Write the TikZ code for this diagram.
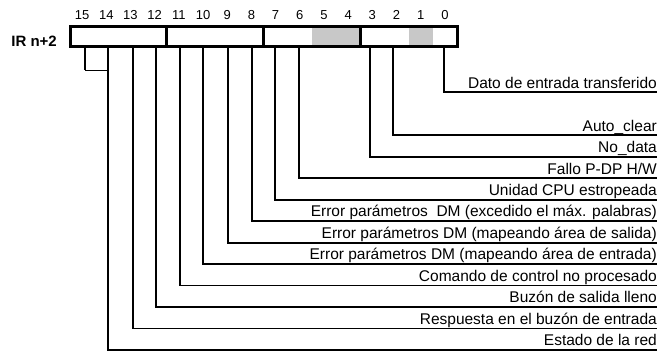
\documentclass[tikz,border=0pt]{standalone}
\usepackage{fontspec}
\setmainfont{Liberation Sans}
\definecolor{cellgray}{HTML}{C8C8C8}
\begin{document}
\begin{tikzpicture}[x=1pt,y=-1pt,
  cell/.style={minimum width=24.1875pt, minimum height=19.5pt, inner sep=0pt, outer sep=0pt},
  unused/.style={cell, fill=cellgray},
  conn/.style={line width=1.8pt},
  joint/.style={line width=1pt},
  frame/.style={line width=3pt},
  bitnum/.style={anchor=base, inner sep=0pt, font=\fontsize{13}{15}\selectfont},
  desc/.style={anchor=south east, inner sep=0pt, text depth=4pt, font=\fontsize{15.5}{18}\selectfont},
  regname/.style={anchor=base east, inner sep=0pt, font=\bfseries\fontsize{15}{18}\selectfont}]
\useasboundingbox (0,0) rectangle (661,356);

% register cells, bit 15 on the left
\foreach \b in {0,...,15}
  \node[cell] (b\b) at ({70+(15-\b+0.5)*24.1875}, 36.25) {};
\foreach \b in {5,4,1}
  \node[unused] at (b\b) {};

% outer frame and nibble dividers
\draw[frame] (b15.north west) rectangle (b0.south east);
\foreach \b in {12,8,4}
  \draw[frame] (b\b.north east) -- (b\b.south east);

% bit numbers
\foreach \b in {0,...,15}
  \node[bitnum] (n\b) at (b\b.center |- 0,19.5) {\b};

\node[regname] (ir) at (57,46.5) {IR n+2};

% flag descriptions, right aligned on their rails
\node[desc] (d0)  at (657, 92.3)  {Dato de entrada transferido};
\node[desc] (d2)  at (657, 135.2) {Auto\_clear};
\node[desc] (d3)  at (657, 156.7) {No\_data\ };
\node[desc] (d6)  at (657, 178.2) {Fallo P-DP H/W};
\node[desc] (d7)  at (657, 199.6) {Unidad CPU estropeada};
\node[desc] (d8)  at (657, 221.1) {Error parámetros\ \ DM (excedido el máx. palabras)};
\node[desc] (d9)  at (657, 242.6) {Error parámetros DM (mapeando área de salida)};
\node[desc] (d10) at (657, 264.1) {Error parámetros DM (mapeando área de entrada)};
\node[desc] (d11) at (657, 285.5) {Comando de control no procesado};
\node[desc] (d12) at (657, 307.0) {Buzón de salida lleno};
\node[desc] (d13) at (657, 328.5) {Respuesta en el buzón de entrada};
\node[desc] (d14) at (657, 350.0) {Estado de la red};

% connectors from each bit to its description
\draw[conn] ([xshift=-1pt]b0.south)  |- (d0.south east);
\draw[conn] ([xshift=-3.5pt]b2.south) |- (d2.south east);
\draw[conn] ([xshift=-2.4pt]b3.south) |- (d3.south east);
\draw[conn] ([xshift=-0.8pt]b6.south) |- (d6.south east);
\draw[conn] ([xshift=-0.6pt]b7.south) |- (d7.south east);
\draw[conn] ([xshift=0.6pt]b8.south)  |- (d8.south east);
\draw[conn] ([xshift=0.8pt]b9.south)  |- (d9.south east);
\draw[conn] (b10.south) |- (d10.south east);
\draw[conn] ([xshift=1.2pt]b11.south) |- (d11.south east);
\draw[conn] ([xshift=1.3pt]b12.south) |- (d12.south east);
\draw[conn] ([xshift=2.5pt]b13.south) |- (d13.south east);
\draw[conn] ([xshift=1.7pt]b14.south) |- (d14.south east);

% bit 15 joins the bit 14 line
\coordinate (j15) at ([xshift=3pt]b15.south |- 0,70.3);
\coordinate (j14) at ([xshift=1.7pt]b14.south |- 0,70.3);
\draw[conn] ([xshift=3pt]b15.south) -- (j15);
\draw[joint] (j15) -- (j14);
\end{tikzpicture}
\end{document}
